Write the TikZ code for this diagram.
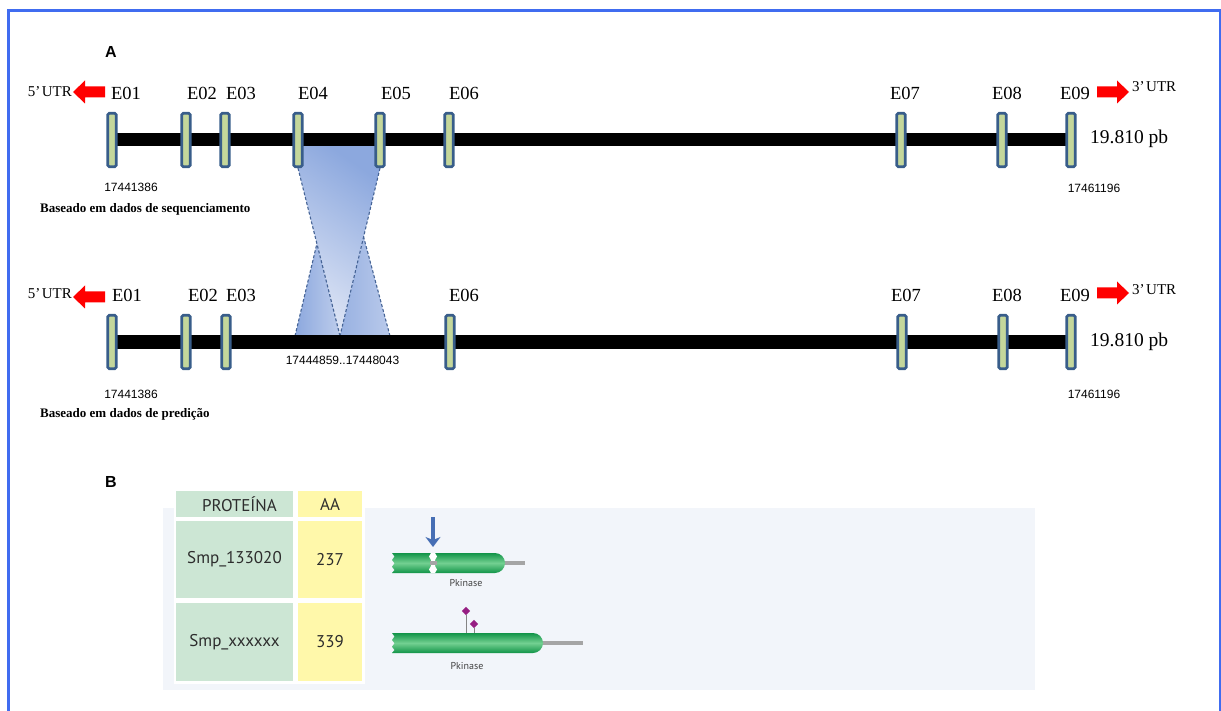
\documentclass[tikz,border=0pt]{standalone}
\usepackage{fontspec}
\setmainfont{Liberation Serif}
\newfontfamily\numfont{Liberation Sans}
\newfontfamily\tabfont{PT Sans}
\usetikzlibrary{shapes.geometric,arrows.meta,calc}
\pgfdeclarelayer{back}
\pgfsetlayers{back,main}

\definecolor{frameblue}{RGB}{64,108,240}
\definecolor{exonfill}{RGB}{196,215,155}
\definecolor{exonedge}{RGB}{56,93,138}
\definecolor{linkdark}{RGB}{140,168,222}
\definecolor{linklight}{RGB}{222,229,245}
\definecolor{linkedge}{RGB}{70,100,150}
\definecolor{panelbg}{RGB}{242,245,250}
\definecolor{cellgreen}{RGB}{204,230,212}
\definecolor{cellyellow}{RGB}{255,248,170}
\definecolor{textgrey}{RGB}{45,45,45}
\definecolor{domdark}{RGB}{18,148,72}
\definecolor{domlight}{RGB}{115,208,145}
\definecolor{tailgrey}{RGB}{165,165,165}
\definecolor{arrowblue}{RGB}{70,110,180}
\definecolor{sitepurple}{RGB}{150,30,130}

\tikzset{
  exon/.style={draw=exonedge, line width=2.6pt, fill=exonfill, rounded corners=1.5pt,
    minimum width=8.5pt, minimum height=53.5pt, inner sep=0pt},
  exlabel/.style={font=\fontsize{18.5}{18.5}\selectfont, anchor=base, inner sep=0pt},
  utrlabel/.style={font=\fontsize{15}{15}\selectfont, anchor=base, inner sep=0pt},
  sizelabel/.style={font=\fontsize{19.5}{19.5}\selectfont, anchor=base west, inner sep=0pt},
  coord/.style={font=\numfont\fontsize{12}{12}\selectfont, inner sep=0pt},
  source/.style={font=\bfseries\fontsize{13}{13}\selectfont, anchor=base west, inner sep=0pt},
  panel/.style={font=\numfont\bfseries\fontsize{16}{16}\selectfont, inner sep=0pt},
  genebar/.style={line width=13pt},
  link/.style={draw=linkedge, line width=1.1pt, dash pattern=on 3pt off 2pt},
  cell/.style={inner sep=0pt, font=\tabfont\fontsize{17}{17}\selectfont, text=textgrey},
  domlabel/.style={font=\tabfont\fontsize{10}{10}\selectfont, text=textgrey!90, inner sep=0pt},
  pfamdomain/.style={top color=domdark, bottom color=domdark, middle color=domlight},
  utrarrow/.pic={\fill[red] (0,-5.5) -- (-20,-5.5) -- (-20,-11.5) -- (-32,0) -- (-20,11.5) -- (-20,5.5) -- (0,5.5) -- cycle;},
  site/.style={diamond, fill=sitepurple, minimum size=8.5pt, inner sep=0pt}
}

\begin{document}
\begin{tikzpicture}[x=1pt,y=-1pt]
\useasboundingbox (0,0) rectangle (1221,711);

% outer frame (open at the bottom)
\draw[frameblue, line width=3pt] (8.7,716) -- (8.7,11) -- (1220,11) -- (1220,716);

% panel letters
\node[panel] (lblA) at (111,52) {A};
\node[panel] (lblB) at (111,482) {B};

% ---------- gene model 1: sequencing ----------
\foreach \n/\x in {1/112,2/186,3/225,4/298,5/380,6/449,7/901,8/1002,9/1071}
  \node[exon] (a\n) at (\x,140) {};
\foreach \n/\x in {1/126,2/202,3/241,4/313,5/396,6/464,7/905,8/1007,9/1075}
  \node[exlabel] (la\n) at (\x,100) {E0\n};

\node[utrlabel, anchor=base east] (utr5a) at (72,97) {5’\kern1.5ptUTR};
\pic at (105,92) {utrarrow};
\node[utrlabel, anchor=base west] (utr3a) at (1132,92) {3’\kern1.5ptUTR};
\pic[xscale=-1] at (1097,92) {utrarrow};

\node[sizelabel] (sza) at (1090,144) {19.810 pb};
\node[coord] (sta) at (131,187) {17441386};
\node[coord] (ena) at (1094,188) {17461196};
\node[source] (srca) at (40,213) {Baseado em dados de sequenciamento};

% ---------- gene model 2: prediction ----------
\foreach \n/\x in {1/112,2/186,3/226,6/450,7/902,8/1003,9/1071}
  \node[exon] (b\n) at (\x,342) {};
\foreach \n/\x in {1/127,2/203,3/241,6/464,7/906,8/1007,9/1075}
  \node[exlabel] (lb\n) at (\x,302) {E0\n};

\node[utrlabel, anchor=base east] (utr5b) at (72,299) {5’\kern1.5ptUTR};
\pic at (105,297) {utrarrow};
\node[utrlabel, anchor=base west] (utr3b) at (1132,295) {3’\kern1.5ptUTR};
\pic[xscale=-1] at (1097,293) {utrarrow};

\node[sizelabel] (szb) at (1090,347) {19.810 pb};
\node[coord] (mrg) at (342.5,360) {17444859..17448043};
\node[coord] (stb) at (131,394) {17441386};
\node[coord] (enb) at (1094,394) {17461196};
\node[source] (srcb) at (40,417) {Baseado em dados de predição};

% ---------- correspondence of E04/E05 to the merged region ----------
\coordinate (v) at (340,336);
\coordinate (ll) at (295,336);
\coordinate (rr) at (390,336);
\coordinate (apl) at ($(a4.south)!0.45!(v)$);
\coordinate (apr) at ($(a5.south)!0.41!(v)$);

\begin{pgfonlayer}{back}
  \shade[bottom color=linklight, top color=linkdark, shading angle=-35]
    (298,146) -- (380,146) -- (a5.south) -- (v) -- (a4.south) -- cycle;
  \shade[left color=linkdark, right color=linklight!60!linkdark]
    (ll) -- (apl) -- (v) -- cycle;
  \shade[left color=linkdark!85!linklight, right color=linklight!55!linkdark]
    (v) -- (apr) -- (rr) -- cycle;
  \draw[link] (a4.south) -- (v);
  \draw[link] (a5.south) -- (v);
  \draw[link] (ll) -- (apl);
  \draw[link] (rr) -- (apr);
  \draw[genebar] (a1.center) -- (a9.center);
  \draw[genebar] (b1.center) -- (b9.center);
\end{pgfonlayer}

% ---------- part B: protein table and domains ----------
\fill[panelbg] (163,508) rectangle (1035,690);
\fill[white] (173.5,488.5) rectangle (364.5,683.5);

\node[cell, fill=cellgreen, minimum width=117pt, minimum height=26pt] (hp) at (234.5,504) {\hspace{10pt}PROTEÍNA};
\node[cell, fill=cellyellow, minimum width=64pt, minimum height=26pt] (ha) at (330,504) {AA};
\node[cell, fill=cellgreen, minimum width=117pt, minimum height=77pt] (p1) at (234.5,559.5) {Smp\_133020};
\node[cell, fill=cellyellow, minimum width=64pt, minimum height=77pt] (n1) at (330,559.5) {237};
\node[cell, fill=cellgreen, minimum width=117pt, minimum height=78pt] (p2) at (234.5,642) {Smp\_xxxxxx};
\node[cell, fill=cellyellow, minimum width=64pt, minimum height=78pt] (n2) at (330,642) {339};

% domain of Smp_133020, with a cut site
\draw[tailgrey, line width=4pt] (500,563) -- (525,563);
\shade[pfamdomain] (392,553) -- (495,553) arc[start angle=-90, end angle=90, radius=10]
  -- (392,573) -- (394.5,570) -- (392,566.7) -- (394.5,563.3) -- (392,560) -- (394.5,556.5) -- cycle;
\fill[white] (431,553) -- (435,553) -- (437,556.5) -- (435,560) -- (435,566) -- (437,569.5)
  -- (435,573) -- (431,573) -- (429,569.5) -- (431,566) -- (431,560) -- (429,556.5) -- cycle;
\fill[tailgrey] (429.5,561) rectangle (436.5,565);
\coordinate (cuttop) at (433,517);
\coordinate (cut) at (433,547);
\draw[arrowblue, line width=4pt, -{Stealth[length=10pt,width=15pt,inset=3pt]}] (cuttop) -- (cut);
\node[domlabel] (pk1) at (466,583) {Pkinase};

% domain of Smp_xxxxxx, with two sites
\draw[tailgrey, line width=4pt] (538,643) -- (583,643);
\shade[pfamdomain] (392,633) -- (533,633) arc[start angle=-90, end angle=90, radius=10]
  -- (392,653) -- (394.5,650) -- (392,646.7) -- (394.5,643.3) -- (392,640) -- (394.5,636.5) -- cycle;
\coordinate (s1) at (466,633);
\coordinate (s2) at (474,633);
\node[site] (d1) at (466,611) {};
\node[site] (d2) at (474,624) {};
\draw[tailgrey!80!black, line width=0.8pt] (d1) -- (s1);
\draw[tailgrey!80!black, line width=0.8pt] (d2) -- (s2);
\node[domlabel] (pk2) at (467,666) {Pkinase};
\end{tikzpicture}
\end{document}
